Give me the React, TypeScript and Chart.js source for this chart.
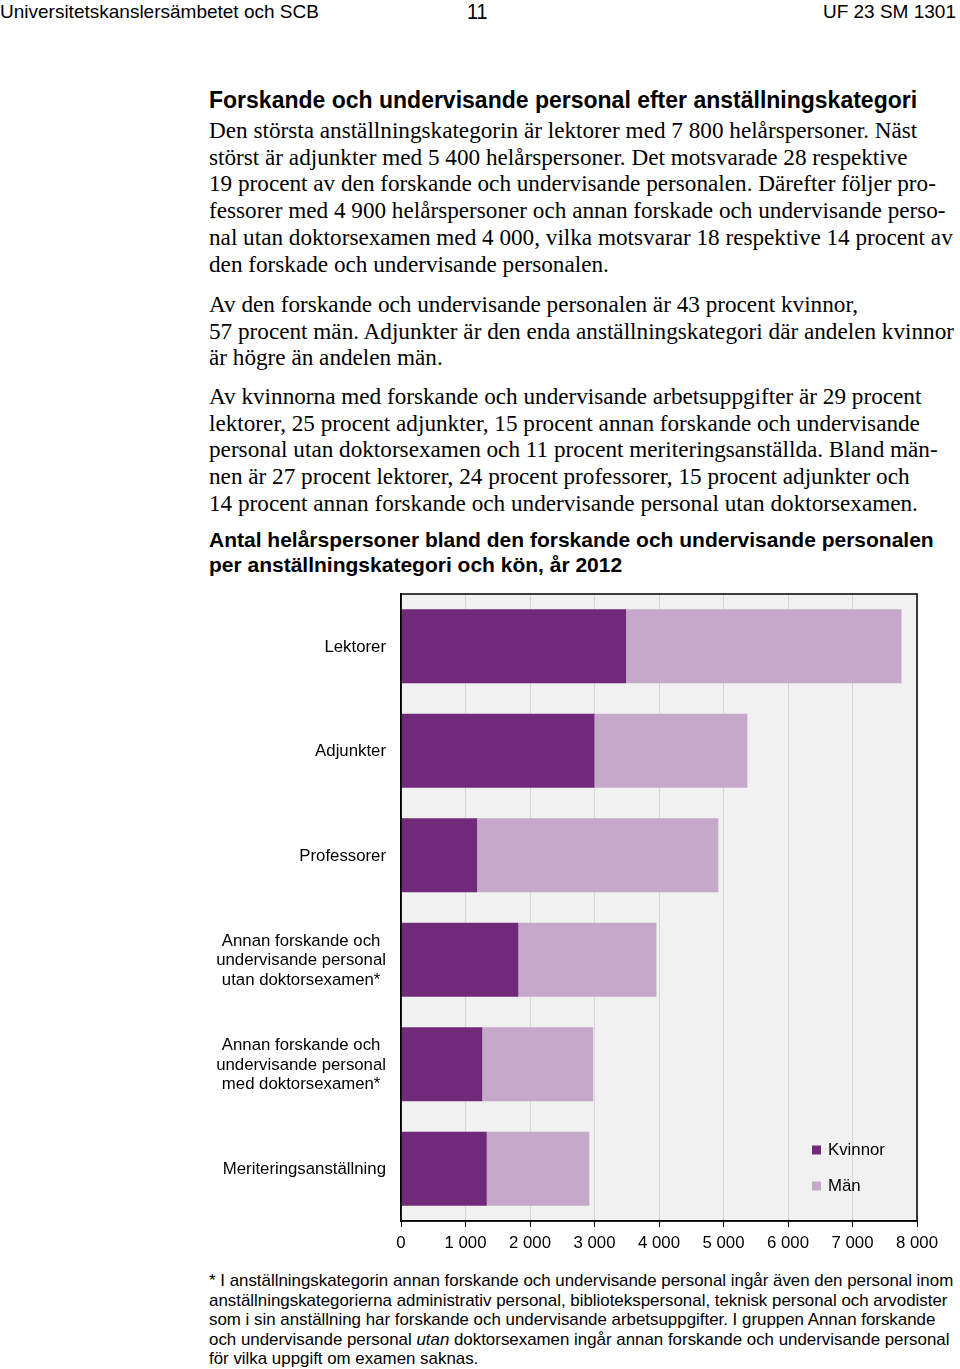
import { useEffect, useRef } from "react";
import { Chart, registerables } from "chart.js";

Chart.register(...registerables);

// Kategorier (rader i diagrammet), radbrytningar som i originalet
const categoryLines = [
  ["Lektorer"],
  ["Adjunkter"],
  ["Professorer"],
  ["Annan forskande och", "undervisande personal", "utan doktorsexamen*"],
  ["Annan forskande och", "undervisande personal", "med doktorsexamen*"],
  ["Meriteringsanställning"],
];
const categories = categoryLines.map((l) => l.join(" "));

// Helårspersoner, år 2012
const kvinnor = [3490, 3000, 1180, 1820, 1260, 1330];
const man = [4270, 2370, 3740, 2140, 1720, 1590];

const xMax = 8000;
const xStep = 1000;

const DARK = "#71297a";
const LIGHT = "#c6a8cb";
const SANS = "'Liberation Sans', Arial, sans-serif";
const SERIF = "'Liberation Serif', 'Times New Roman', serif";
const LABEL_SIZE = 16.8;

const paragraphs = [
  [
    "Den största anställningskategorin är lektorer med 7 800 helårspersoner. Näst",
    "störst är adjunkter med 5 400 helårspersoner. Det motsvarade 28 respektive",
    "19 procent av den forskande och undervisande personalen. Därefter följer pro-",
    "fessorer med 4 900 helårspersoner och annan forskade och undervisande perso-",
    "nal utan doktorsexamen med 4 000, vilka motsvarar 18 respektive 14 procent av",
    "den forskade och undervisande personalen.",
  ],
  [
    "Av den forskande och undervisande personalen är 43 procent kvinnor,",
    "57 procent män. Adjunkter är den enda anställningskategori där andelen kvinnor",
    "är högre än andelen män.",
  ],
  [
    "Av kvinnorna med forskande och undervisande arbetsuppgifter är 29 procent",
    "lektorer, 25 procent adjunkter, 15 procent annan forskande och undervisande",
    "personal utan doktorsexamen och 11 procent meriteringsanställda. Bland män-",
    "nen är 27 procent lektorer, 24 procent professorer, 15 procent adjunkter och",
    "14 procent annan forskande och undervisande personal utan doktorsexamen.",
  ],
];

// ritar grå bakgrund och ram runt plotytan
const plotFrame = {
  id: "plotFrame",
  beforeDraw(chart: any) {
    const { ctx, chartArea: a } = chart;
    ctx.save();
    ctx.fillStyle = "#f1f1f1";
    ctx.fillRect(a.left, a.top, a.right - a.left, a.bottom - a.top);
    ctx.restore();
  },
  afterDraw(chart: any) {
    const { ctx, chartArea: a } = chart;
    ctx.save();
    ctx.strokeStyle = "#000";
    ctx.lineWidth = 1.5;
    ctx.strokeRect(a.left, a.top, a.right - a.left, a.bottom - a.top);
    ctx.restore();
  },
};

// kategorietiketter: högerställda block, raderna centrerade inom blocket
const yLabels = {
  id: "yLabels",
  afterDraw(chart: any) {
    const { ctx } = chart;
    const yScale = chart.scales.y;
    const right = chart.chartArea.left - 15;
    ctx.save();
    ctx.font = `${LABEL_SIZE}px ${SANS}`;
    ctx.fillStyle = "#000";
    ctx.textAlign = "center";
    ctx.textBaseline = "middle";
    const lh = 19.5;
    categoryLines.forEach((lines, i) => {
      const yc = yScale.getPixelForValue(i) + 1;
      const w = Math.max(...lines.map((t) => ctx.measureText(t).width));
      const xc = right - w / 2;
      lines.forEach((t, j) => {
        ctx.fillText(t, xc, yc + (j - (lines.length - 1) / 2) * lh);
      });
    });
    ctx.restore();
  },
};

// förklaring nere till höger i plotytan
const legendBox = {
  id: "legendBox",
  afterDraw(chart: any) {
    const { ctx, chartArea: a } = chart;
    ctx.save();
    ctx.font = `${LABEL_SIZE}px ${SANS}`;
    ctx.textBaseline = "middle";
    ctx.textAlign = "left";
    chart.data.datasets.forEach((ds: any, i: number) => {
      const y = a.bottom - 71 + i * 36;
      const x = a.right - 105;
      ctx.fillStyle = ds.backgroundColor;
      ctx.fillRect(x, y - 4.5, 9, 9);
      ctx.fillStyle = "#000";
      ctx.fillText(ds.label, x + 16, y);
    });
    ctx.restore();
  },
};

function BarChart() {
  const canvasRef = useRef<HTMLCanvasElement>(null);

  useEffect(() => {
    if (!canvasRef.current) return;
    const chart = new Chart(canvasRef.current, {
      type: "bar",
      data: {
        labels: categories,
        datasets: [
          {
            label: "Kvinnor",
            data: kvinnor,
            backgroundColor: DARK,
            categoryPercentage: 1,
            barPercentage: 0.71,
          },
          {
            label: "Män",
            data: man,
            backgroundColor: LIGHT,
            categoryPercentage: 1,
            barPercentage: 0.71,
          },
        ],
      },
      options: {
        indexAxis: "y",
        responsive: false,
        animation: false,
        layout: { padding: { top: 9, right: 28, left: 0, bottom: 0 } },
        plugins: {
          legend: { display: false },
          tooltip: { enabled: false },
        },
        scales: {
          x: {
            stacked: true,
            min: 0,
            max: xMax,
            ticks: {
              stepSize: xStep,
              color: "#000",
              font: { family: SANS, size: LABEL_SIZE },
              padding: 6,
              maxRotation: 0,
              callback: (v: any) =>
                Number(v) === 0 ? "0" : Number(v).toLocaleString("sv-SE"),
            },
            grid: {
              color: "#d6d6d6",
              lineWidth: 1,
              tickColor: "#000",
              tickLength: 6,
            },
            border: { display: true, color: "#000", width: 1.5 },
            afterFit: (s: any) => {
              s.height = 39;
            },
          },
          y: {
            stacked: true,
            ticks: { display: false },
            grid: { display: false },
            border: { display: true, color: "#000", width: 1.5 },
            afterFit: (s: any) => {
              s.width = 196;
            },
          },
        },
      },
      plugins: [plotFrame, yLabels, legendBox],
    });
    return () => chart.destroy();
  }, []);

  return (
    <canvas
      ref={canvasRef}
      width={740}
      height={675}
      style={{ position: "absolute", left: 205, top: 585, width: 740, height: 675 }}
    />
  );
}

export default function App() {
  const bodyLine = {
    fontFamily: SERIF,
    fontSize: 23.2,
    lineHeight: "26.7px",
    whiteSpace: "nowrap" as const,
    color: "#000",
  };
  const paraTops = [117, 291, 383];

  return (
    <div
      style={{
        position: "absolute",
        left: 0,
        top: 0,
        width: 960,
        height: 1369,
        background: "#fff",
        overflow: "hidden",
      }}
    >
      <div
        style={{
          position: "absolute",
          left: 0,
          top: 0,
          fontFamily: SANS,
          fontSize: 19,
          lineHeight: "24px",
          whiteSpace: "nowrap",
        }}
      >
        Universitetskanslersämbetet och SCB
      </div>
      <div
        style={{
          position: "absolute",
          left: 467,
          top: 0,
          fontFamily: SANS,
          fontSize: 22,
          lineHeight: "24px",
          transform: "scaleX(0.9)",
          transformOrigin: "left",
        }}
      >
        11
      </div>
      <div
        style={{
          position: "absolute",
          right: 4,
          top: 0,
          fontFamily: SANS,
          fontSize: 19,
          lineHeight: "24px",
          whiteSpace: "nowrap",
        }}
      >
        UF 23 SM 1301
      </div>

      <div
        style={{
          position: "absolute",
          left: 209,
          top: 86,
          fontFamily: SANS,
          fontWeight: "bold",
          fontSize: 23,
          lineHeight: "28px",
          whiteSpace: "nowrap",
        }}
      >
        Forskande och undervisande personal efter anställningskategori
      </div>

      {paragraphs.map((p, i) => (
        <div key={i} style={{ position: "absolute", left: 209, top: paraTops[i] }}>
          {p.map((line, j) => (
            <div key={j} style={bodyLine}>
              {line}
            </div>
          ))}
        </div>
      ))}

      <div
        style={{
          position: "absolute",
          left: 209,
          top: 527,
          fontFamily: SANS,
          fontWeight: "bold",
          fontSize: 21,
          lineHeight: "25px",
          whiteSpace: "nowrap",
        }}
      >
        <div>Antal helårspersoner bland den forskande och undervisande personalen</div>
        <div>per anställningskategori och kön, år 2012</div>
      </div>

      <BarChart />

      <div
        style={{
          position: "absolute",
          left: 209,
          top: 1271,
          fontFamily: SANS,
          fontSize: 17,
          lineHeight: "19.5px",
          whiteSpace: "nowrap",
          transform: "scaleX(0.993)",
          transformOrigin: "left",
        }}
      >
        <div>
          * I anställningskategorin annan forskande och undervisande personal ingår även den personal inom
        </div>
        <div>
          anställningskategorierna administrativ personal, bibliotekspersonal, teknisk personal och arvodister
        </div>
        <div>
          som i sin anställning har forskande och undervisande arbetsuppgifter. I gruppen Annan forskande
        </div>
        <div>
          och undervisande personal <i>utan</i> doktorsexamen ingår annan forskande och undervisande personal
        </div>
        <div>för vilka uppgift om examen saknas.</div>
      </div>
    </div>
  );
}
